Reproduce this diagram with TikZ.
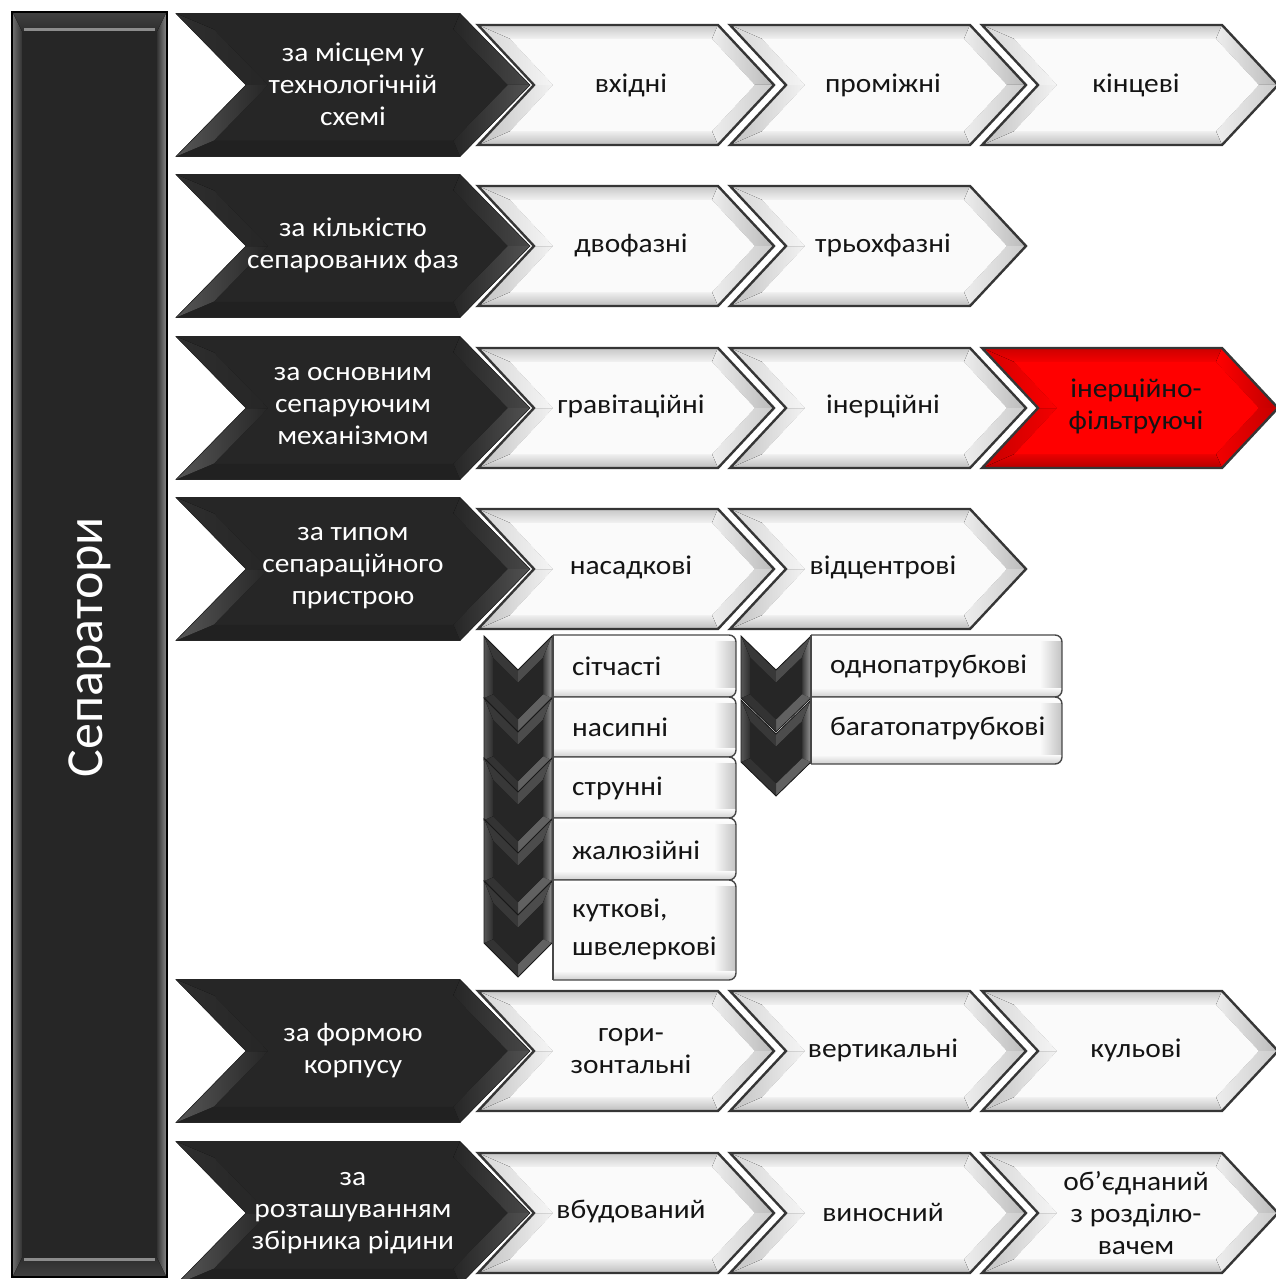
\documentclass[tikz,border=0pt]{standalone}
\usepackage{fontspec}
\setmainfont{Carlito}
\newfontfamily\widefont[FakeStretch=1.09]{Carlito}

% ---------- colours ----------
\definecolor{dkface}{HTML}{262626}
\definecolor{ltface}{HTML}{FAFAFA}
\definecolor{outline}{HTML}{363636}
\definecolor{boxedge}{HTML}{C2C2C2}
\definecolor{boxbot}{HTML}{CFCFCF}

% ---------- facet palettes (f1..f6 follow the outline, then face and line) ----------
\tikzset{
  % light chevrons
  lt-f1/.style={top color=black!22, bottom color=black!5},
  lt-f2/.style={left color=black!7, right color=black!27},
  lt-f3/.style={left color=black!7, right color=black!20},
  lt-f4/.style={top color=black!6, bottom color=black!26},
  lt-f5/.style={left color=black!24, right color=black!5},
  lt-f6/.style={left color=black!16, right color=black!4},
  lt-face/.style={fill=ltface},
  lt-line/.style={draw=outline, line width=2.4pt, line join=miter},
  % dark chevrons
  dk-f1/.style={fill=dkface},
  dk-f2/.style={left color=dkface, right color=black!72},
  dk-f3/.style={left color=dkface, right color=black!68},
  dk-f4/.style={fill=black!87},
  dk-f5/.style={left color=black!66, right color=dkface},
  dk-f6/.style={left color=black!82, right color=dkface},
  dk-face/.style={fill=dkface},
  dk-line/.style={draw=dkface, line width=0.6pt},
  % red chevron
  rd-f1/.style={top color=red!80!black, bottom color=red!96!black},
  rd-f2/.style={left color=red, right color=red!75!black},
  rd-f3/.style={left color=red!95!black, right color=red!78!black},
  rd-f4/.style={top color=red!92!black, bottom color=red!70!black},
  rd-f5/.style={left color=red!78!black, right color=red!95!black},
  rd-f6/.style={left color=red!84!black, right color=red!98!black},
  rd-face/.style={fill=red},
  rd-line/.style={draw=outline, line width=2.4pt, line join=miter},
  % vertical dark chevrons of the sub-lists
  vk-f1/.style={fill=black!78},
  vk-f2/.style={fill=black!70},
  vk-f3/.style={left color=black!78, right color=black!40},
  vk-f4/.style={fill=black!62},
  vk-f5/.style={fill=black!80},
  vk-f6/.style={left color=black!66, right color=black!82},
  vk-face/.style={fill=black!85},
  vk-line/.style={draw=black!90, line width=0.8pt},
  % texts
  headtext/.style={text=white, align=center, inner sep=0pt,
    font=\widefont\fontsize{27}{32}\selectfont},
  itemtext/.style={text=black!92, align=center, inner sep=0pt,
    font=\widefont\fontsize{27}{32}\selectfont},
  subtext/.style={text=black!92, align=left, anchor=west, inner sep=0pt,
    font=\widefont\fontsize{27}{38}\selectfont},
  boxline/.style={draw=black!72, line width=1.4pt},
}

% fills the six bevel facets between (o1..o6) and (i1..i6), then the face
\newcommand\bevelsix[1]{%
  \fill[#1-face] (o1)--(o2)--(o3)--(o4)--(o5)--(o6)--cycle;
  \fill[#1-f1] (o1)--(o2)--(i2)--(i1)--cycle;
  \fill[#1-f2] (o2)--(o3)--(i3)--(i2)--cycle;
  \fill[#1-f3] (o3)--(o4)--(i4)--(i3)--cycle;
  \fill[#1-f4] (o4)--(o5)--(i5)--(i4)--cycle;
  \fill[#1-f5] (o5)--(o6)--(i6)--(i5)--cycle;
  \fill[#1-f6] (o6)--(o1)--(i1)--(i6)--cycle;
  \fill[#1-face] (i1)--(i2)--(i3)--(i4)--(i5)--(i6)--cycle;
  \draw[#1-line] (o1)--(o2)--(o3)--(o4)--(o5)--(o6)--cycle;
}

% horizontal chevron: left x, centre y, top length, half height, point depth, bevel, palette
\newcommand\hchev[7]{%
  \pgfmathsetmacro\hcL{#1}%
  \pgfmathsetmacro\hcR{#1+#3}%
  \pgfmathsetmacro\hcT{#1+#3+#5}%
  \pgfmathsetmacro\hcN{#1+#5}%
  \pgfmathsetmacro\hcYt{#2-#4}%
  \pgfmathsetmacro\hcYb{#2+#4}%
  \pgfmathsetmacro\hcK{#6*sqrt((#5)*(#5)+(#4)*(#4))/(#4)}%
  \pgfmathsetmacro\hcS{(#5)*((#4)-(#6))/(#4)}%
  \pgfmathsetmacro\hcTi{\hcT-\hcK}%
  \pgfmathsetmacro\hcRi{\hcTi-\hcS}%
  \pgfmathsetmacro\hcNi{\hcN+\hcK}%
  \pgfmathsetmacro\hcLi{\hcNi-\hcS}%
  \pgfmathsetmacro\hcYti{\hcYt+#6}%
  \pgfmathsetmacro\hcYbi{\hcYb-#6}%
  \coordinate (o1) at (\hcL,\hcYt);  \coordinate (o2) at (\hcR,\hcYt);
  \coordinate (o3) at (\hcT,#2);     \coordinate (o4) at (\hcR,\hcYb);
  \coordinate (o5) at (\hcL,\hcYb);  \coordinate (o6) at (\hcN,#2);
  \coordinate (i1) at (\hcLi,\hcYti); \coordinate (i2) at (\hcRi,\hcYti);
  \coordinate (i3) at (\hcTi,#2);     \coordinate (i4) at (\hcRi,\hcYbi);
  \coordinate (i5) at (\hcLi,\hcYbi); \coordinate (i6) at (\hcNi,#2);
  \bevelsix{#7}%
}

% downward chevron: left x, top y, width, side length, point depth, bevel, palette
\newcommand\vchev[7]{%
  \pgfmathsetmacro\vcL{#1}%
  \pgfmathsetmacro\vcC{#1+(#3)/2}%
  \pgfmathsetmacro\vcR{#1+#3}%
  \pgfmathsetmacro\vcH{(#3)/2}%
  \pgfmathsetmacro\vcK{#6*sqrt((#5)*(#5)+\vcH*\vcH)/\vcH}%
  \pgfmathsetmacro\vcS{(#5)*(\vcH-(#6))/\vcH}%
  \pgfmathsetmacro\vcNy{#2+#5}%
  \pgfmathsetmacro\vcBy{#2+#4}%
  \pgfmathsetmacro\vcTy{#2+#4+#5}%
  \pgfmathsetmacro\vcNi{\vcNy+\vcK}%
  \pgfmathsetmacro\vcTopi{\vcNi-\vcS}%
  \pgfmathsetmacro\vcTi{\vcTy-\vcK}%
  \pgfmathsetmacro\vcBi{\vcTi-\vcS}%
  \coordinate (o1) at (\vcL,#2);    \coordinate (o2) at (\vcC,\vcNy);
  \coordinate (o3) at (\vcR,#2);    \coordinate (o4) at (\vcR,\vcBy);
  \coordinate (o5) at (\vcC,\vcTy); \coordinate (o6) at (\vcL,\vcBy);
  \coordinate (i1) at (\vcL+#6,\vcTopi); \coordinate (i2) at (\vcC,\vcNi);
  \coordinate (i3) at (\vcR-#6,\vcTopi); \coordinate (i4) at (\vcR-#6,\vcBi);
  \coordinate (i5) at (\vcC,\vcTi);      \coordinate (i6) at (\vcL+#6,\vcBi);
  \bevelsix{#7}%
}

% list box with rounded right corners: x0, y0, x1, y1
\newcommand\itembox[4]{%
  \begin{scope}
    \clip (#1,#2-3) rectangle (#3+3,#4+3);
    \begin{scope}
      \clip[rounded corners=7pt] (#1-14,#2) rectangle (#3,#4);
      \fill[ltface] (#1-14,#2) rectangle (#3,#4);
      \fill[left color=ltface, right color=boxedge] (#3-22,#2) rectangle (#3,#4);
      \fill[top color=ltface, bottom color=boxbot] (#1,#4-9) rectangle (#3,#4);
      \fill[top color=white, bottom color=ltface] (#1,#2) rectangle (#3,#2+5);
    \end{scope}
    \draw[boxline, rounded corners=7pt] (#1-14,#2) rectangle (#3,#4);
  \end{scope}
  \draw[boxline] (#1,#2)--(#1,#4);
}

\begin{document}
\begin{tikzpicture}[x=1pt,y=-1pt]
\useasboundingbox (0,0) rectangle (1276,1279);

% ---------- vertical title bar ----------
\fill[black!62] (12,12) rectangle (167,1277);
\fill[left color=black!58, right color=black!80] (13,13)--(22,31)--(22,1258)--(13,1276)--cycle;
\fill[left color=black!80, right color=black!48] (166,13)--(157,31)--(157,1258)--(166,1276)--cycle;
\fill[top color=black!75, bottom color=black!82] (13,13)--(166,13)--(157,31)--(22,31)--cycle;
\fill[top color=black!82, bottom color=black!75] (13,1276)--(166,1276)--(157,1258)--(22,1258)--cycle;
\fill[dkface] (22,31) rectangle (157,1258);
\draw[black!45, line width=2.5pt] (24,29.5)--(155,29.5);
\draw[black!45, line width=2.5pt] (24,1259.5)--(155,1259.5);
\draw[black, line width=2pt] (12,12) rectangle (167,1277);
\node[rotate=90, text=white, inner sep=0pt, font=\fontsize{52}{60}\selectfont]
  (title) at (90,647) {Сепаратори};

% ---------- row 1 ----------
\hchev{176}{85}{284}{71.5}{70}{16}{dk}
\hchev{478}{85}{240}{60}{56}{14}{lt}
\hchev{730}{85}{240}{60}{56}{14}{lt}
\hchev{982}{85}{240}{60}{56}{14}{lt}
\node[headtext] (h1) at (353,84) {за місцем у\\технологічній\\схемі};
\node[itemtext] (a1) at (631,85) {вхідні};
\node[itemtext] (b1) at (883,85) {проміжні};
\node[itemtext] (c1) at (1136,85) {кінцеві};

% ---------- row 2 ----------
\hchev{176}{246}{284}{71.5}{70}{16}{dk}
\hchev{478}{246}{240}{60}{56}{14}{lt}
\hchev{730}{246}{240}{60}{56}{14}{lt}
\node[headtext] (h2) at (353,245) {за кількістю\\сепарованих фаз};
\node[itemtext] (a2) at (631,245) {двофазні};
\node[itemtext] (b2) at (883,245) {трьохфазні};

% ---------- row 3 ----------
\hchev{176}{408}{284}{71.5}{70}{16}{dk}
\hchev{478}{408}{240}{60}{56}{14}{lt}
\hchev{730}{408}{240}{60}{56}{14}{lt}
\hchev{982}{408}{240}{60}{56}{14}{rd}
\node[headtext] (h3) at (353,406) {за основним\\сепаруючим\\механізмом};
\node[itemtext] (a3) at (631,406) {гравітаційні};
\node[itemtext] (b3) at (883,406) {інерційні};
\node[itemtext] (c3) at (1136,406) {інерційно-\\фільтруючі};

% ---------- row 4 ----------
\hchev{176}{569}{284}{71.5}{70}{16}{dk}
\hchev{478}{569}{240}{60}{56}{14}{lt}
\hchev{730}{569}{240}{60}{56}{14}{lt}
\node[headtext] (h4) at (353,568) {за типом\\сепараційного\\пристрою};
\node[itemtext] (a4) at (631,567) {насадкові};
\node[itemtext] (b4) at (883,567) {відцентрові};

% ---------- packing sub-list ----------
\vchev{484}{636}{68}{62}{34}{9}{vk}
\vchev{484}{698}{68}{62}{34}{9}{vk}
\vchev{484}{758}{68}{62}{34}{9}{vk}
\vchev{484}{819}{68}{62}{34}{9}{vk}
\vchev{484}{881}{68}{62}{34}{9}{vk}
\itembox{553}{635}{736}{697}
\itembox{553}{697}{736}{757}
\itembox{553}{757}{736}{818}
\itembox{553}{818}{736}{880}
\itembox{553}{880}{736}{980}
\node[subtext] (s1) at (572,666) {сітчасті};
\node[subtext] (s2) at (572,727) {насипні};
\node[subtext] (s3) at (572,788) {струнні};
\node[subtext] (s4) at (572,850) {жалюзійні};
\node[subtext] (s5) at (572,929) {куткові,\\швелеркові};

% ---------- centrifugal sub-list ----------
\vchev{741}{636}{70}{62}{34}{9}{vk}
\vchev{741}{700}{70}{62}{34}{9}{vk}
\itembox{811}{635}{1062}{697}
\itembox{811}{697}{1062}{764}
\node[subtext] (t1) at (830,666) {однопатрубкові};
\node[subtext] (t2) at (830,728) {багатопатрубкові};

% ---------- row 5 ----------
\hchev{176}{1051}{284}{71.5}{70}{16}{dk}
\hchev{478}{1051}{240}{60}{56}{14}{lt}
\hchev{730}{1051}{240}{60}{56}{14}{lt}
\hchev{982}{1051}{240}{60}{56}{14}{lt}
\node[headtext] (h5) at (353,1051) {за формою\\корпусу};
\node[itemtext] (a5) at (631,1051) {гори-\\зонтальні};
\node[itemtext] (b5) at (883,1050) {вертикальні};
\node[itemtext] (c5) at (1136,1050) {кульові};

% ---------- row 6 ----------
\hchev{176}{1213}{284}{71.5}{70}{16}{dk}
\hchev{478}{1213}{240}{60}{56}{14}{lt}
\hchev{730}{1213}{240}{60}{56}{14}{lt}
\hchev{982}{1213}{240}{60}{56}{14}{lt}
\node[headtext] (h6) at (353,1213) {за\\розташуванням\\збірника рідини};
\node[itemtext] (a6) at (631,1212) {вбудований};
\node[itemtext] (b6) at (883,1212) {виносний};
\node[itemtext] (c6) at (1136,1213) {об’єднаний\\з розділю-\\вачем};
\end{tikzpicture}
\end{document}
